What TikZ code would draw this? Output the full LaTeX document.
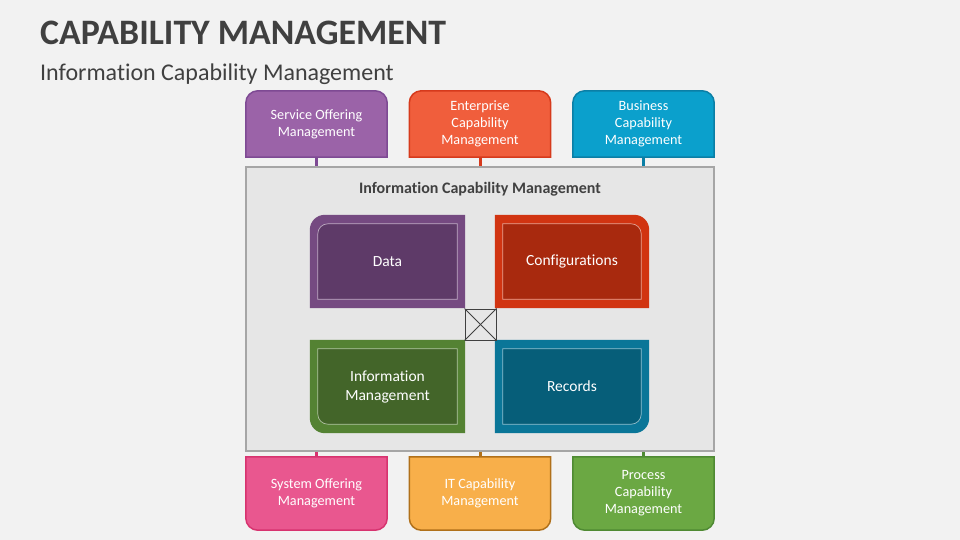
\documentclass[tikz,border=0pt]{standalone}
\usepackage{fontspec}
\setmainfont[Ligatures=NoCommon]{Carlito}
\usetikzlibrary{positioning}
\definecolor{bggray}{HTML}{F2F2F2}
\definecolor{titlegray}{HTML}{404040}
\definecolor{panelfill}{HTML}{E6E6E6}
\definecolor{panelline}{HTML}{A6A6A6}
\definecolor{sofill}{HTML}{9B63A8}
\definecolor{soline}{HTML}{7E4A94}
\definecolor{ecfill}{HTML}{F05E3C}
\definecolor{ecline}{HTML}{D63A1C}
\definecolor{bcfill}{HTML}{0BA0CC}
\definecolor{bcline}{HTML}{0B7FA6}
\definecolor{syfill}{HTML}{E9578F}
\definecolor{syline}{HTML}{D7336F}
\definecolor{itfill}{HTML}{F8AF4A}
\definecolor{itline}{HTML}{B0701A}
\definecolor{pcfill}{HTML}{6BA843}
\definecolor{pcline}{HTML}{4F8A33}
\definecolor{dataout}{HTML}{754A81}
\definecolor{datain}{HTML}{5E3A68}
\definecolor{confout}{HTML}{D13411}
\definecolor{confin}{HTML}{A8290E}
\definecolor{imout}{HTML}{548233}
\definecolor{imin}{HTML}{436529}
\definecolor{recout}{HTML}{0A7698}
\definecolor{recin}{HTML}{065E79}

\pgfdeclarelayer{bg}
\pgfdeclarelayer{shapes}
\pgfsetlayers{bg,shapes,main}

\tikzset{
  box/.style={minimum width=141pt, minimum height=66pt, inner sep=0pt, align=center,
    text=white, font=\fontsize{14.2}{17}\selectfont},
  lowbox/.style={box, minimum height=73pt},
  tile/.style={minimum width=155pt, minimum height=93pt, inner sep=0pt, align=center,
    text=white, font=\fontsize{15.5}{19}\selectfont},
  shell/.style={line width=1.5pt},
  stub/.style={line width=3pt},
  inset/.style={draw=white, draw opacity=0.55, line width=0.7pt}
}

\begin{document}
\begin{tikzpicture}[x=1pt, y=-1pt]
    \useasboundingbox (0,0) rectangle (960,540);

    % titles
    \node[anchor=base west, inner sep=0pt, text=titlegray, font=\fontsize{35.8}{40}\selectfont\bfseries] (title) at (40,45) {CAPABILITY MANAGEMENT};
    \node[anchor=base west, inner sep=0pt, text=titlegray, font=\fontsize{24}{28}\selectfont] (subtitle) at (40,81) {Information Capability Management};

    % outer boxes
    \node[box] (sob) at (316.5,124) {Service Offering\\Management};
    \node[box] (ecm) at (480,124) {Enterprise\\Capability\\Management};
    \node[box] (bcm) at (643.5,124) {Business\\Capability\\Management};
    \node[lowbox] (sys) at (316.5,493.5) {System Offering\\Management};
    \node[lowbox] (itc) at (480,493.5) {IT Capability\\Management};
    \node[lowbox] (pcm) at (643.5,493.5) {Process\\Capability\\Management};

    % inner tiles
    \node[tile] (data) at (387.5,261.5) {Data};
    \node[tile, minimum width=154pt] (conf) at (572,261.5) {Configurations};
    \node[tile] (info) at (387.5,386.5) {Information\\Management};
    \node[tile, minimum width=154pt] (rec) at (572,386.5) {Records};
    \node[draw=black!75, line width=1pt, minimum width=31pt, minimum height=31pt, inner sep=0pt] (cross) at (480.5,324.5) {};
    \draw[black!75, line width=0.8pt] (cross.north west) -- (cross.south east);
    \draw[black!75, line width=0.8pt] (cross.north east) -- (cross.south west);

    \begin{pgfonlayer}{bg}
    \fill[bggray] (0,0) rectangle (960,540);
    % central panel
    \node[fill=panelfill, draw=panelline, line width=1.5pt, minimum width=468pt, minimum height=284pt, inner sep=0pt] (icm) at (480,309) {};
    % stubs
    \draw[stub, soline] (sob.south) -- (sob.south |- icm.north);
    \draw[stub, ecline] (ecm.south) -- (ecm.south |- icm.north);
    \draw[stub, bcline] (bcm.south) -- (bcm.south |- icm.north);
    \draw[stub, syline] (sys.north) -- (sys.north |- icm.south);
    \draw[stub, itline] (itc.north) -- (itc.north |- icm.south);
    \draw[stub, pcline] (pcm.north) -- (pcm.north |- icm.south);
    \end{pgfonlayer}

    \node[text=titlegray, font=\fontsize{16}{19}\selectfont\bfseries] (icmtitle) at (480,189) {Information Capability Management};

    \begin{pgfonlayer}{shapes}
    \filldraw[shell, fill=sofill, draw=soline] (sob.south west) [rounded corners=12pt] -- (sob.north west) -- (sob.north east) [sharp corners] -- (sob.south east) -- cycle;
    \filldraw[shell, fill=ecfill, draw=ecline] (ecm.south west) [rounded corners=12pt] -- (ecm.north west) -- (ecm.north east) [sharp corners] -- (ecm.south east) -- cycle;
    \filldraw[shell, fill=bcfill, draw=bcline] (bcm.south west) [rounded corners=12pt] -- (bcm.north west) -- (bcm.north east) [sharp corners] -- (bcm.south east) -- cycle;
    \filldraw[shell, fill=syfill, draw=syline] (sys.north west) [rounded corners=12pt] -- (sys.south west) -- (sys.south east) [sharp corners] -- (sys.north east) -- cycle;
    \filldraw[shell, fill=itfill, draw=itline] (itc.north west) [rounded corners=12pt] -- (itc.south west) -- (itc.south east) [sharp corners] -- (itc.north east) -- cycle;
    \filldraw[shell, fill=pcfill, draw=pcline] (pcm.north west) [rounded corners=12pt] -- (pcm.south west) -- (pcm.south east) [sharp corners] -- (pcm.north east) -- cycle;

    % tiles, one rounded corner each
    \fill[dataout] (data.south west) [rounded corners=15pt] -- (data.north west) [sharp corners] -- (data.north east) -- (data.south east) -- cycle;
    \filldraw[fill=datain, inset] ([shift={(8,-9)}]data.south west) [rounded corners=10pt] -- ([shift={(8,9)}]data.north west) [sharp corners] -- ([shift={(-8,9)}]data.north east) -- ([shift={(-8,-9)}]data.south east) -- cycle;
    \fill[confout] (conf.north west) [rounded corners=15pt] -- (conf.north east) [sharp corners] -- (conf.south east) -- (conf.south west) -- cycle;
    \filldraw[fill=confin, inset] ([shift={(8,9)}]conf.north west) [rounded corners=10pt] -- ([shift={(-8,9)}]conf.north east) [sharp corners] -- ([shift={(-8,-9)}]conf.south east) -- ([shift={(8,-9)}]conf.south west) -- cycle;
    \fill[imout] (info.south east) [rounded corners=15pt] -- (info.south west) [sharp corners] -- (info.north west) -- (info.north east) -- cycle;
    \filldraw[fill=imin, inset] ([shift={(-8,-9)}]info.south east) [rounded corners=10pt] -- ([shift={(8,-9)}]info.south west) [sharp corners] -- ([shift={(8,9)}]info.north west) -- ([shift={(-8,9)}]info.north east) -- cycle;
    \fill[recout] (rec.south west) [rounded corners=15pt] -- (rec.south east) [sharp corners] -- (rec.north east) -- (rec.north west) -- cycle;
    \filldraw[fill=recin, inset] ([shift={(8,-9)}]rec.south west) [rounded corners=10pt] -- ([shift={(-8,-9)}]rec.south east) [sharp corners] -- ([shift={(-8,9)}]rec.north east) -- ([shift={(8,9)}]rec.north west) -- cycle;
    \end{pgfonlayer}
\end{tikzpicture}
\end{document}
